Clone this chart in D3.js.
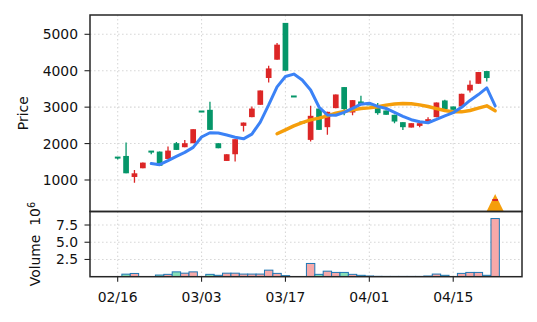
<!DOCTYPE html>
<html>
<head>
<meta charset="utf-8">
<script src="https://cdn.jsdelivr.net/npm/d3@7"></script>
<style>
  html, body { margin: 0; padding: 0; background: #ffffff; }
  svg { display: block; }
  text { font-family: "DejaVu Sans", sans-serif; }
</style>
</head>
<body>
<svg id="chart" width="537" height="322"></svg>
<script>
// ---------------- data ----------------
const openP  = [1618,1660,1083,1322,1785,1780,1578,2010,1900,2010,
                2885,2927,2010,1523,1707,2486,2726,3064,3800,4303,
                5313,3298,2582,2101,2962,2450,2973,3551,2853,3156,
                3080,2973,2908,2790,2588,2440,2486,2577,2726,3183,
                3018,3018,3458,3642,3991,445];
const highP  = [1618,2027,1275,1477,1785,1780,1917,2040,2100,2395,
                2885,3147,2010,1707,2120,2577,3018,3458,4138,4762,
                5313,3298,2582,3037,2962,2872,3348,3551,3193,3312,
                3080,3111,2908,2790,2588,2560,2560,2726,3128,3202,
                3018,3367,3733,3964,3991,465];
const lowP   = [1560,1184, 926,1322,1707,1390,1578,1826,1900,2010,
                2875,2376,1872,1523,1505,2330,2726,3064,3678,4303,
                4000,3288,2572,2055,2376,2239,2973,2780,2780,3064,
                3070,2790,2790,2560,2376,2440,2450,2577,2726,2945,
                2927,3018,3403,3642,3706,440];
const closeP = [1612,1184,1184,1477,1775,1390,1807,1826,2010,2395,
                2875,2376,1872,1707,2120,2577,2962,3458,4064,4716,
                4000,3288,2572,2762,2376,2872,3348,2946,3193,3064,
                3070,2835,2790,2605,2450,2560,2560,2670,3128,2945,
                2927,3367,3615,3964,3799,455];
// volume in units of 10^6
const volume = [0.03,0.37,0.47,0,0,0.24,0.34,0.70,0.51,0.70,
                0.03,0.34,0.20,0.51,0.51,0.38,0.38,0.38,0.95,0.48,
                0.15,0,0,1.92,0.34,0.80,0.62,0.62,0.34,0.20,
                0.10,0.05,0.04,0.04,0.04,0.04,0.04,0.10,0.38,0.20,
                0.02,0.48,0.62,0.62,0.20,8.44];
// moving averages (start index 4 and 19)
const ma5Start = 4;
const ma5 = [1450,1420,1530,1650,1758,1895,2180,2298,2290,2235,2175,2130,2260,2590,3060,
             3558,3840,3908,3745,3470,3005,2785,2778,2858,2965,3082,3110,3022,2965,2858,
             2748,2655,2598,2572,2664,2762,2850,2995,3185,3345,3528,3035];
const ma20Start = 19;
const ma20 = [2268,2376,2486,2577,2651,2700,2762,2835,2880,2927,2962,2980,3010,3055,3088,
              3100,3092,3064,3018,2962,2908,2872,2872,2908,2973,3037,2900];
// signal marker
const signalIdx = [45];
const signalPrice = [375];
// x tick labels
const tickIdx = [0,10,20,30,40];
const tickLabels = ["02/16","03/03","03/17","04/01","04/15"];
const priceTicks = [1000,2000,3000,4000,5000];
const volTicks = [2.5,5.0,7.5];

// ---------------- layout ----------------
const L = 90, R = 522, T = 15, MID = 211.5, B = 276.7;
const upColor = "#dc2626", downColor = "#059669";
const volUp = "#f7a9a9", volDown = "#86dfb6", volEdge = "#1f77b4";
const gridColor = "#d8d8d8", axisColor = "#262626";
const fs = 13.9;

const svg = d3.select("#chart");
const n = closeP.length;
const idx = d3.range(n);

const x = d3.scaleLinear().domain([-3.3, 48.2]).range([L, R]);
const y = d3.scaleLinear().domain([135, 5530]).range([MID, T]);
const yv = d3.scaleLinear().domain([0, 9.46]).range([B, MID]);
const step = x(1) - x(0);

// clip paths
const defs = svg.append("defs");
defs.append("clipPath").attr("id", "clipMain")
  .append("rect").attr("x", L).attr("y", T).attr("width", R - L).attr("height", MID - T);
defs.append("clipPath").attr("id", "clipVol")
  .append("rect").attr("x", L).attr("y", MID).attr("width", R - L).attr("height", B - MID);

// grids
const gMain = svg.append("g").attr("clip-path", "url(#clipMain)");
const gVol = svg.append("g").attr("clip-path", "url(#clipVol)");
const gridStyle = sel => sel.attr("stroke", gridColor).attr("stroke-width", 1.1)
  .attr("stroke-dasharray", "1.6,2.4").attr("fill", "none");

gMain.selectAll(".hg").data(priceTicks).join("line")
  .attr("x1", L).attr("x2", R).attr("y1", d => y(d)).attr("y2", d => y(d)).call(gridStyle);
gMain.selectAll(".vg").data(tickIdx).join("line")
  .attr("x1", d => x(d)).attr("x2", d => x(d)).attr("y1", T).attr("y2", MID).call(gridStyle);
gVol.selectAll(".hg").data(volTicks).join("line")
  .attr("x1", L).attr("x2", R).attr("y1", d => yv(d)).attr("y2", d => yv(d)).call(gridStyle);
gVol.selectAll(".vg").data(tickIdx).join("line")
  .attr("x1", d => x(d)).attr("x2", d => x(d)).attr("y1", MID).attr("y2", B).call(gridStyle);

// volume bars
gVol.selectAll(".vb").data(idx.filter(i => volume[i] > 0)).join("rect")
  .attr("x", i => x(i) - step / 2)
  .attr("width", step)
  .attr("y", i => yv(volume[i]))
  .attr("height", i => Math.max(0.01, yv(0) - yv(volume[i])))
  .attr("fill", i => closeP[i] > openP[i] ? volUp : volDown)
  .attr("stroke", volEdge).attr("stroke-width", 1);

// candles
const bw = step * 0.68;
const drawCandle = (g, list) => {
  g.selectAll(null).data(list).join("line")
    .attr("x1", i => x(i)).attr("x2", i => x(i))
    .attr("y1", i => y(highP[i])).attr("y2", i => y(lowP[i]))
    .attr("stroke", i => closeP[i] > openP[i] ? upColor : downColor)
    .attr("stroke-width", 1.3);
  g.selectAll(null).data(list).join("rect")
    .attr("x", i => x(i) - bw / 2).attr("width", bw)
    .attr("y", i => {
      const top = y(Math.max(openP[i], closeP[i]));
      const h = Math.abs(y(openP[i]) - y(closeP[i]));
      return h < 2 ? top - (2 - h) / 2 : top;
    })
    .attr("height", i => Math.max(2, Math.abs(y(openP[i]) - y(closeP[i]))))
    .attr("fill", i => closeP[i] > openP[i] ? upColor : downColor);
};
const gC = gMain.append("g");
drawCandle(gC, idx.filter(i => !signalIdx.includes(i)));

// moving averages
const lineGen = d3.line().x(d => x(d[0])).y(d => y(d[1])).curve(d3.curveLinear);
gMain.append("path")
  .datum(ma20.map((v, k) => [ma20Start + k, v]))
  .attr("d", lineGen).attr("fill", "none")
  .attr("stroke", "#f59e0b").attr("stroke-width", 3.4)
  .attr("stroke-linejoin", "round").attr("stroke-linecap", "round");
gMain.append("path")
  .datum(ma5.map((v, k) => [ma5Start + k, v]))
  .attr("d", lineGen).attr("fill", "none")
  .attr("stroke", "#3b82f6").attr("stroke-width", 3)
  .attr("stroke-linejoin", "round").attr("stroke-linecap", "round");

// signal marker (triangle)
const ts = 17.3;
gMain.selectAll(".sig").data(signalIdx).join("path")
  .attr("d", `M0,${-ts/2}L${ts/2},${ts/2}L${-ts/2},${ts/2}Z`)
  .attr("transform", (d, k) => `translate(${x(d)},${y(signalPrice[k])})`)
  .attr("fill", "#f59e0b");
drawCandle(gMain.append("g"), signalIdx);

// spines
svg.append("rect").attr("x", L).attr("y", T).attr("width", R - L).attr("height", MID - T)
  .attr("fill", "none").attr("stroke", axisColor).attr("stroke-width", 1.5);
svg.append("rect").attr("x", L).attr("y", MID).attr("width", R - L).attr("height", B - MID)
  .attr("fill", "none").attr("stroke", axisColor).attr("stroke-width", 1.5);

// y ticks price
const tickLen = 5.5, labelRight = 78;
svg.selectAll(".pt").data(priceTicks).join("line")
  .attr("x1", L - tickLen).attr("x2", L).attr("y1", d => y(d)).attr("y2", d => y(d))
  .attr("stroke", axisColor).attr("stroke-width", 1.1);
svg.selectAll(".ptl").data(priceTicks).join("text")
  .attr("x", labelRight).attr("y", d => y(d)).attr("dy", "0.36em")
  .attr("text-anchor", "end").attr("font-size", fs).attr("fill", "#111")
  .text(d => d);

// y ticks volume
svg.selectAll(".vt").data(volTicks).join("line")
  .attr("x1", L - tickLen).attr("x2", L).attr("y1", d => yv(d)).attr("y2", d => yv(d))
  .attr("stroke", axisColor).attr("stroke-width", 1.1);
svg.selectAll(".vtl").data(volTicks).join("text")
  .attr("x", labelRight).attr("y", d => yv(d)).attr("dy", "0.36em")
  .attr("text-anchor", "end").attr("font-size", fs).attr("fill", "#111")
  .text(d => d3.format(".1f")(d));

// x ticks
svg.selectAll(".xt").data(tickIdx).join("line")
  .attr("x1", d => x(d)).attr("x2", d => x(d)).attr("y1", B).attr("y2", B + 5)
  .attr("stroke", axisColor).attr("stroke-width", 1.1);
svg.selectAll(".xtl").data(tickIdx).join("text")
  .attr("x", d => x(d)).attr("y", 302)
  .attr("text-anchor", "middle").attr("font-size", fs).attr("fill", "#111")
  .text((d, k) => tickLabels[k]);

// axis labels
svg.append("text")
  .attr("transform", `translate(27.5,${(T + MID) / 2}) rotate(-90)`)
  .attr("text-anchor", "middle").attr("font-size", fs).attr("fill", "#111")
  .text("Price");
const vl = svg.append("text")
  .attr("transform", `translate(39.5,${(MID + B) / 2}) rotate(-90)`)
  .attr("text-anchor", "middle").attr("font-size", fs).attr("fill", "#111")
  .attr("xml:space", "preserve");
vl.append("tspan").text("Volume\u00a0\u00a010");
vl.append("tspan").attr("dy", "-0.45em").attr("font-size", fs * 0.7).text("6");
</script>
</body>
</html>
